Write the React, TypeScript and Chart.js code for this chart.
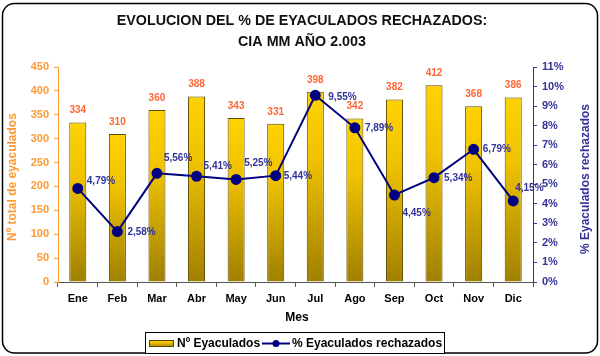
import React, { useEffect, useRef } from "react";
import { Chart, registerables } from "chart.js";

Chart.register(...registerables);

const months = ["Ene", "Feb", "Mar", "Abr", "May", "Jun", "Jul", "Ago", "Sep", "Oct", "Nov", "Dic"];
const eyaculados = [334, 310, 360, 388, 343, 331, 398, 342, 382, 412, 368, 386];
const rechazadosPct = [4.79, 2.58, 5.56, 5.41, 5.25, 5.44, 9.55, 7.89, 4.45, 5.34, 6.79, 4.15];

const titleLines = ["EVOLUCION DEL % DE EYACULADOS RECHAZADOS:", "CIA MM AÑO 2.003"];
const leftTitle = "Nº total de eyaculados";
const rightTitle = "% Eyaculados rechazados";
const xTitle = "Mes";
const legendBars = "Nº Eyaculados";
const legendLine = "% Eyaculados rechazados";

// label offsets (style only)
const pctLabelDx = [9, 10, 7, 7, 8, 8, 13, 10, 8, 10, 9, 2];
const pctLabelDy = [-7, 1, -15, -10, -16, 1, 2, 0, 18, 1, 0, -13];

const FONT = "'Liberation Sans', Arial, sans-serif";
const ORANGE = "#FF9933";
const BARLABEL = "#FF6633";
const NAVY = "#333399";
const LINE = "#000080";

function fmtPct(v: number) {
  return v.toFixed(2).replace(".", ",") + "%";
}

function barGradient(chart: any, top: number, bot: number) {
  if (!isFinite(top) || !isFinite(bot) || top === bot) return "#E0B000";
  const g = chart.ctx.createLinearGradient(0, top, 0, bot);
  g.addColorStop(0, "#FFD200");
  g.addColorStop(0.35, "#F0C200");
  g.addColorStop(1, "#A08000");
  return g;
}

const decorPlugin = {
  id: "decor",
  afterDatasetsDraw(chart: any) {
    const ctx = chart.ctx;
    const barMeta = chart.getDatasetMeta(0);
    const lineMeta = chart.getDatasetMeta(1);
    ctx.save();
    ctx.font = `bold 10px ${FONT}`;
    ctx.fillStyle = BARLABEL;
    ctx.textAlign = "center";
    ctx.textBaseline = "middle";
    barMeta.data.forEach((el: any, i: number) => {
      ctx.fillText(String(eyaculados[i]), el.x, el.y - 12);
    });
    ctx.fillStyle = NAVY;
    ctx.textAlign = "left";
    lineMeta.data.forEach((el: any, i: number) => {
      ctx.fillText(fmtPct(rechazadosPct[i]), el.x + pctLabelDx[i], el.y + pctLabelDy[i]);
    });
    ctx.restore();
  },
  afterDraw(chart: any) {
    const ctx = chart.ctx;
    ctx.save();
    // outer rounded border
    ctx.strokeStyle = "#000";
    ctx.lineWidth = 1.5;
    ctx.beginPath();
    ctx.roundRect(2.5, 3.5, 595, 349.5, 12);
    ctx.stroke();

    // title
    ctx.fillStyle = "#111";
    ctx.textAlign = "center";
    ctx.textBaseline = "middle";
    ctx.font = `bold 14.3px ${FONT}`;
    ctx.fillText(titleLines[0], 302, 21);
    ctx.fillText(titleLines[1], 302, 42);

    // x title
    ctx.font = `bold 12px ${FONT}`;
    ctx.fillStyle = "#000";
    ctx.fillText(xTitle, 297, 318);

    // left title
    ctx.save();
    ctx.translate(13, 177);
    ctx.rotate(-Math.PI / 2);
    ctx.fillStyle = ORANGE;
    ctx.font = `bold 12px ${FONT}`;
    ctx.fillText(leftTitle, 0, 0);
    ctx.restore();

    // right title
    ctx.save();
    ctx.translate(586, 179);
    ctx.rotate(-Math.PI / 2);
    ctx.fillStyle = NAVY;
    ctx.font = `bold 12px ${FONT}`;
    ctx.fillText(rightTitle, 0, 0);
    ctx.restore();

    // legend
    ctx.fillStyle = "#fff";
    ctx.fillRect(145.5, 332.5, 299, 21);
    ctx.strokeStyle = "#000";
    ctx.lineWidth = 1;
    ctx.strokeRect(145.5, 332.5, 299, 21);
    ctx.fillStyle = barGradient(chart, 340, 347);
    ctx.fillRect(149.5, 340.5, 24, 6);
    ctx.strokeStyle = "#5a4a00";
    ctx.strokeRect(149.5, 340.5, 24, 6);
    ctx.fillStyle = "#000";
    ctx.textAlign = "left";
    ctx.font = `bold 12px ${FONT}`;
    ctx.fillText(legendBars, 177, 343.5);
    ctx.strokeStyle = LINE;
    ctx.lineWidth = 2;
    ctx.beginPath();
    ctx.moveTo(262, 343.5);
    ctx.lineTo(290, 343.5);
    ctx.stroke();
    ctx.fillStyle = LINE;
    ctx.beginPath();
    ctx.arc(276, 343.5, 3.5, 0, Math.PI * 2);
    ctx.fill();
    ctx.fillStyle = "#000";
    ctx.fillText(legendLine, 292, 343.5);
    ctx.restore();
  },
};

export default function App() {
  const ref = useRef<HTMLCanvasElement | null>(null);
  useEffect(() => {
    document.body.style.margin = "0";
    const canvas = ref.current;
    if (!canvas) return;
    const chart = new Chart(canvas, {
      type: "bar",
      data: {
        labels: months,
        datasets: [
          {
            type: "bar",
            label: legendBars,
            data: eyaculados,
            yAxisID: "y",
            order: 1,
            barPercentage: 0.43,
            categoryPercentage: 1,
            borderColor: "#5a4a00",
            borderWidth: 1,
            backgroundColor: (c: any) => {
              const chart = c.chart;
              const ys = chart.scales && chart.scales.y;
              if (!ys || c.type !== "data") return "#E0B000";
              const v = eyaculados[c.dataIndex];
              return barGradient(chart, ys.getPixelForValue(v), ys.getPixelForValue(0));
            },
          } as any,
          {
            type: "line",
            label: legendLine,
            data: rechazadosPct,
            yAxisID: "y1",
            order: 0,
            borderColor: LINE,
            borderWidth: 2,
            pointRadius: 4.5,
            pointBackgroundColor: LINE,
            pointBorderColor: LINE,
            tension: 0,
          } as any,
        ],
      },
      options: {
        animation: false,
        responsive: false,
        maintainAspectRatio: false,
        layout: { padding: { top: 67, left: 0, right: 0, bottom: 0 } },
        plugins: {
          legend: { display: false },
          title: { display: false },
          tooltip: { enabled: false },
        },
        scales: {
          x: {
            grid: { offset: true, drawOnChartArea: false, tickLength: 5, color: "#555" },
            border: { color: "#555", width: 1 },
            ticks: { color: "#000", font: { family: FONT, weight: "bold", size: 11 }, padding: 5 },
            afterFit: (s: any) => {
              s.height = 74;
            },
          },
          y: {
            position: "left",
            min: 0,
            max: 450,
            ticks: { stepSize: 50, color: ORANGE, font: { family: FONT, weight: "bold", size: 11 }, padding: 5 },
            grid: { drawOnChartArea: false, tickLength: 4, color: ORANGE },
            border: { color: ORANGE, width: 1 },
            afterFit: (s: any) => {
              s.width = 58;
            },
          },
          y1: {
            position: "right",
            min: 0,
            max: 11,
            ticks: {
              stepSize: 1,
              color: NAVY,
              font: { family: FONT, weight: "bold", size: 11 },
              padding: 5,
              callback: (v: any) => v + "%",
            },
            grid: { drawOnChartArea: false, tickLength: 4, color: NAVY },
            border: { color: NAVY, width: 1 },
            afterFit: (s: any) => {
              s.width = 67;
            },
          },
        },
      } as any,
      plugins: [decorPlugin],
    });
    return () => chart.destroy();
  }, []);
  return (
    <div style={{ width: 600, height: 356 }}>
      <canvas ref={ref} width={600} height={356} style={{ display: "block" }} />
    </div>
  );
}
